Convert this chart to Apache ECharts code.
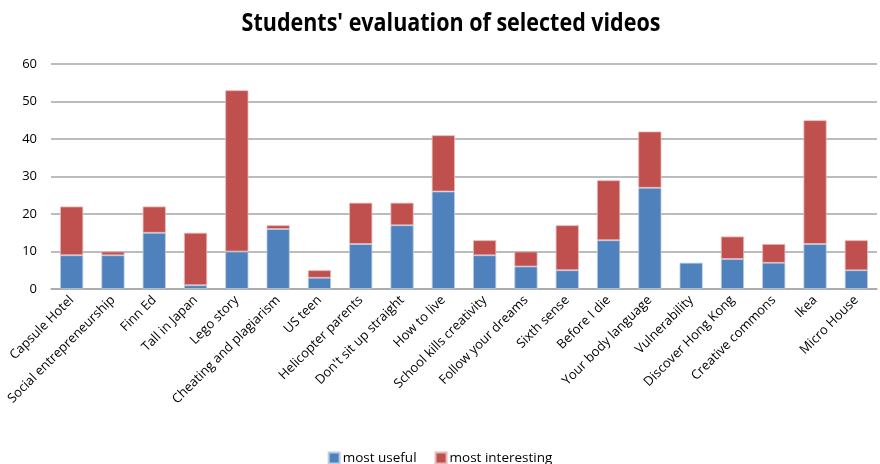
<!DOCTYPE html>
<html>
<head>
<meta charset="utf-8">
<script src="https://cdn.jsdelivr.net/npm/echarts@6/dist/echarts.min.js"></script>
<style>
  html, body { margin: 0; padding: 0; background: #fff; }
  #chart { width: 880px; height: 464px; }
</style>
</head>
<body>
<div id="chart"></div>
<script>
// Video titles along the x axis
const videos = [
  'Capsule Hotel', 'Social entrepreneurship', 'Finn Ed', 'Tall in Japan', 'Lego story',
  'Cheating and plagiarism', 'US teen', 'Helicopter parents', "Don't sit up straight", 'How to live',
  'School kills creativity', 'Follow your dreams', 'Sixth sense', 'Before I die', 'Your body language',
  'Vulnerability', 'Discover Hong Kong', 'Creative commons', 'Ikea', 'Micro House'
];

// Number of students choosing each video
const mostUseful =      [9, 9, 15, 1, 10, 16, 3, 12, 17, 26, 9, 6, 5, 13, 27, 7, 8, 7, 12, 5];
const mostInteresting = [13, 1, 7, 14, 43, 1, 2, 11, 6, 15, 4, 4, 12, 16, 15, 0, 6, 5, 33, 8];

const seriesNames = ['most useful', 'most interesting'];
const chartTitle = "Students' evaluation of selected videos";
const yMax = 60;
const yStep = 10;

const font = 'Open Sans, Liberation Sans, sans-serif';
const chart = echarts.init(document.getElementById('chart'), null, { renderer: 'canvas' });

// Zero-height segments get no outline so nothing shows on top of the stack
const withBorders = values => values.map(v =>
  v === 0 ? { value: v, itemStyle: { borderWidth: 0 } } : v
);

chart.setOption({
  animation: false,
  // Title drawn as a slightly condensed bold text block
  graphic: [{
    type: 'text',
    x: 451,
    y: 24,
    scaleX: 0.86,
    style: {
      text: chartTitle,
      fontFamily: font,
      fontSize: 25,
      fontWeight: 'bold',
      fill: '#000',
      align: 'center',
      verticalAlign: 'middle'
    }
  }],
  legend: {
    data: seriesNames,
    top: 446,
    left: 'center',
    itemWidth: 11,
    itemHeight: 11,
    itemGap: 18,
    icon: 'rect',
    textStyle: { fontFamily: font, fontSize: 13.5, color: '#000', padding: [0, 0, 0, -2] }
  },
  grid: {
    left: 51, right: 3, top: 64, bottom: 175,
    containLabel: false,
    outerBoundsMode: 'none'
  },
  xAxis: {
    type: 'category',
    data: videos,
    axisLine: { lineStyle: { color: '#a6a6a6', width: 1.5 } },
    axisTick: { show: false },
    axisLabel: {
      interval: 0,
      rotate: 45,
      margin: 9,
      fontFamily: font,
      fontSize: 13,
      color: '#000'
    }
  },
  yAxis: {
    type: 'value',
    min: 0,
    max: yMax,
    interval: yStep,
    axisLine: { show: false },
    axisTick: { show: false },
    axisLabel: { fontFamily: font, fontSize: 13, color: '#000', margin: 14 },
    splitLine: { lineStyle: { color: '#a6a6a6', width: 1.5 } }
  },
  series: [
    {
      name: seriesNames[0],
      type: 'bar',
      stack: 'votes',
      barWidth: '56%',
      data: withBorders(mostUseful),
      itemStyle: { color: '#4F81BD', borderColor: '#b9cde5', borderWidth: 0.8 }
    },
    {
      name: seriesNames[1],
      type: 'bar',
      stack: 'votes',
      barWidth: '56%',
      data: withBorders(mostInteresting),
      itemStyle: { color: '#C0504D', borderColor: '#e6b9b8', borderWidth: 0.8 }
    }
  ]
});
</script>
</body>
</html>
